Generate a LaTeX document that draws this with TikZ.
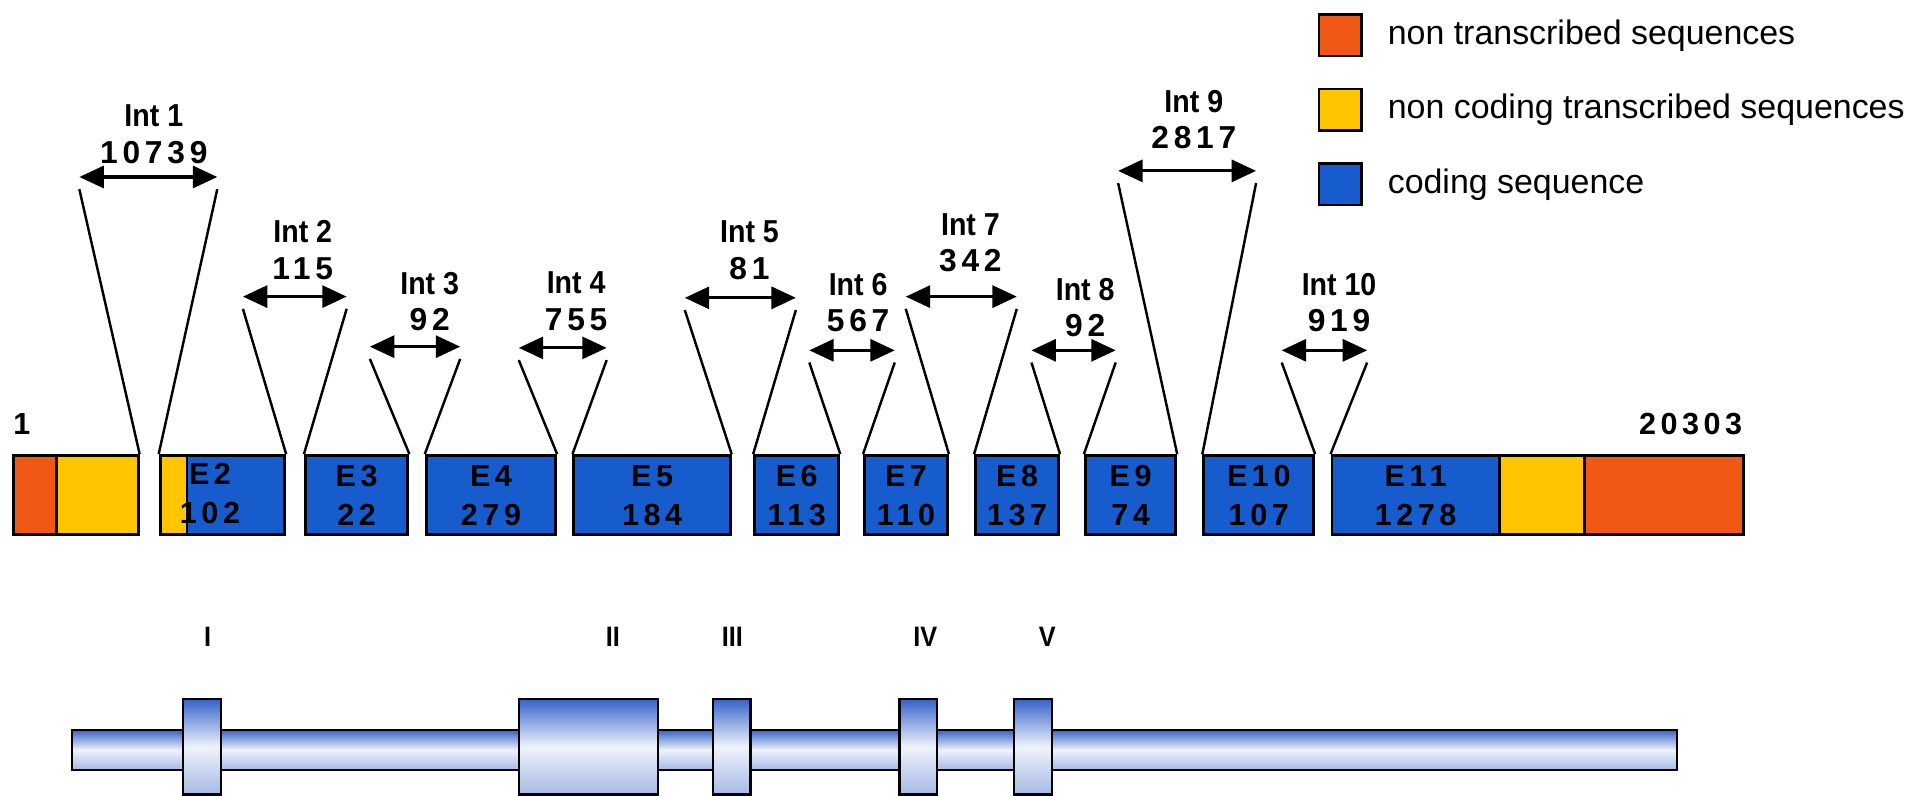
\documentclass[tikz,border=0pt]{standalone}
\usepackage{fontspec}
\setmainfont{Liberation Sans}
\newfontfamily\condfont[FakeStretch=0.9]{Liberation Sans}
\newfontfamily\spacedfont[LetterSpace=15]{Liberation Sans}
\usetikzlibrary{arrows.meta,positioning}
\definecolor{ntorange}{RGB}{240,88,22}
\definecolor{ncyellow}{RGB}{255,198,0}
\definecolor{cdblue}{RGB}{22,92,204}
\definecolor{protblue}{RGB}{55,100,200}
\tikzset{
  seg/.style={draw, line width=1.2pt, inner sep=0pt, minimum height=32.5pt, anchor=north west},
  exon/.style={seg, fill=cdblue, align=center, font=\spacedfont\bfseries\fontsize{12.5}{16}\selectfont},
  exonlab/.style={align=center, inner sep=0pt, font=\spacedfont\bfseries\fontsize{12.5}{16}\selectfont},
  intlab/.style={align=center, inner sep=0pt, font=\condfont\bfseries\fontsize{13}{15}\selectfont},
  cone/.style={line width=1pt},
  dblarrow/.style={{Triangle[length=10pt,width=9pt]}-{Triangle[length=10pt,width=9pt]}, line width=1.3pt},
  key/.style={draw, line width=1pt, minimum width=17.5pt, minimum height=17pt, inner sep=0pt},
  keytext/.style={anchor=west, inner sep=0pt, font=\fontsize{13.9}{16}\selectfont},
  bar/.style={draw, line width=0.9pt, anchor=north west, inner sep=0pt,
    top color=protblue, bottom color=protblue!45, middle color=white!92!protblue},
  dom/.style={bar, minimum height=39pt},
  roman/.style={inner sep=0pt, font=\condfont\bfseries\fontsize{11.5}{13}\selectfont},
}
\begin{document}
\begin{tikzpicture}[x=0.5pt, y=-0.5pt]
\useasboundingbox (0,0) rectangle (1568,652);

% legend
\node[key, fill=ntorange] (k1) at (1098,29) {};
\node[keytext, right=10pt of k1] (k1t) {non transcribed sequences};
\node[key, fill=ncyellow] (k2) at (1098,90) {};
\node[keytext, right=10pt of k2] (k2t) {non coding transcribed sequences};
\node[key, fill=cdblue] (k3) at (1098,151) {};
\node[keytext, right=10pt of k3] (k3t) {coding sequence};

% gene ends
\node[exonlab] (start) at (18,347) {1};
\node[exonlab] (stop) at (1385,347) {20303};

% exons
\node[seg, fill=ntorange, minimum width=17.5pt] (nt5) at (10,372) {};
\node[seg, fill=ncyellow, minimum width=33.5pt] (utr5) at (45,372) {};
\node[seg, fill=ncyellow, minimum width=11pt] (utr2) at (130,372) {};
\node[seg, fill=cdblue, minimum width=40pt] (e2) at (152,372) {};
\node[exonlab] (e2t) at (172,404) {E2\\102};
\node[exon, minimum width=42pt] (e3) at (249,372) {E3\\22};
\node[exon, minimum width=53pt] (e4) at (348,372) {E4\\279};
\node[exon, minimum width=64pt] (e5) at (469,372) {E5\\184};
\node[exon, minimum width=34.5pt] (e6) at (617,372) {E6\\113};
\node[exon, minimum width=34pt] (e7) at (707,372) {E7\\110};
\node[exon, minimum width=34pt] (e8) at (798,372) {E8\\137};
\node[exon, minimum width=37pt] (e9) at (888,372) {E9\\74};
\node[exon, minimum width=45pt] (e10) at (985,372) {E10\\107};
\node[exon, minimum width=68.5pt] (e11) at (1090,372) {E11\\1278};
\node[seg, fill=ncyellow, minimum width=35pt] (utr3) at (1227,372) {};
\node[seg, fill=ntorange, minimum width=65pt] (nt3) at (1297,372) {};

% introns: arrow ends
\coordinate (a1l) at (65,145);   \coordinate (a1r) at (178,145);
\coordinate (a2l) at (199,243);  \coordinate (a2r) at (284,243);
\coordinate (a3l) at (303,284);  \coordinate (a3r) at (377,284);
\coordinate (a4l) at (425,285);  \coordinate (a4r) at (497,285);
\coordinate (a5l) at (561,244);  \coordinate (a5r) at (652,244);
\coordinate (a6l) at (663,287);  \coordinate (a6r) at (733,287);
\coordinate (a7l) at (742,243);  \coordinate (a7r) at (833,243);
\coordinate (a8l) at (845,287);  \coordinate (a8r) at (914,287);
\coordinate (a9l) at (916,140);  \coordinate (a9r) at (1029,140);
\coordinate (a10l) at (1050,287); \coordinate (a10r) at (1120,287);

\foreach \i in {1,...,10}
  \draw[dblarrow] (a\i l) -- (a\i r);

% introns: cones
\draw[cone] (utr5.north east) -- ([yshift=-5pt]a1l);
\draw[cone] (utr2.north west) -- ([yshift=-5pt]a1r);
\draw[cone] (e2.north east) -- ([yshift=-5pt]a2l);
\draw[cone] (e3.north west) -- ([yshift=-5pt]a2r);
\draw[cone] (e3.north east) -- ([yshift=-5pt]a3l);
\draw[cone] (e4.north west) -- ([yshift=-5pt]a3r);
\draw[cone] (e4.north east) -- ([yshift=-5pt]a4l);
\draw[cone] (e5.north west) -- ([yshift=-5pt]a4r);
\draw[cone] (e5.north east) -- ([yshift=-5pt]a5l);
\draw[cone] (e6.north west) -- ([yshift=-5pt]a5r);
\draw[cone] (e6.north east) -- ([yshift=-5pt]a6l);
\draw[cone] (e7.north west) -- ([yshift=-5pt]a6r);
\draw[cone] (e7.north east) -- ([yshift=-5pt]a7l);
\draw[cone] (e8.north west) -- ([yshift=-5pt]a7r);
\draw[cone] (e8.north east) -- ([yshift=-5pt]a8l);
\draw[cone] (e9.north west) -- ([yshift=-5pt]a8r);
\draw[cone] (e9.north east) -- ([yshift=-5pt]a9l);
\draw[cone] (e10.north west) -- ([yshift=-5pt]a9r);
\draw[cone] (e10.north east) -- ([yshift=-5pt]a10l);
\draw[cone] (e11.north west) -- ([yshift=-5pt]a10r);

% introns: labels
\node[intlab] (l1) at (126,110) {Int 1\\{\spacedfont 10739}};
\node[intlab] (l2) at (248,205) {Int 2\\{\spacedfont 115}};
\node[intlab] (l3) at (352,247) {Int 3\\{\spacedfont 92}};
\node[intlab] (l4) at (472,247) {Int 4\\{\spacedfont 755}};
\node[intlab] (l5) at (614,205) {Int 5\\{\spacedfont 81}};
\node[intlab] (l6) at (703,248) {Int 6\\{\spacedfont 567}};
\node[intlab] (l7) at (795,199) {Int 7\\{\spacedfont 342}};
\node[intlab] (l8) at (889,252) {Int 8\\{\spacedfont 92}};
\node[intlab] (l9) at (978,98) {Int 9\\{\spacedfont 2817}};
\node[intlab] (l10) at (1097,248) {Int 10\\{\spacedfont 919}};

% protein with domains
\node[bar, minimum width=657.5pt, minimum height=16.5pt] (prot) at (58,597) {};
\node[dom, minimum width=15.5pt] (dI) at (149,572) {};
\node[dom, minimum width=57pt] (dII) at (424,572) {};
\node[dom, minimum width=15.5pt] (dIII) at (583,572) {};
\node[dom, minimum width=15.5pt] (dIV) at (736,572) {};
\node[dom, minimum width=15.5pt] (dV) at (830,572) {};
\node[roman] (rI) at (170,522) {I};
\node[roman] (rII) at (502,522) {II};
\node[roman] (rIII) at (600,522) {III};
\node[roman] (rIV) at (758,522) {IV};
\node[roman] (rV) at (858,522) {V};

\end{tikzpicture}
\end{document}
